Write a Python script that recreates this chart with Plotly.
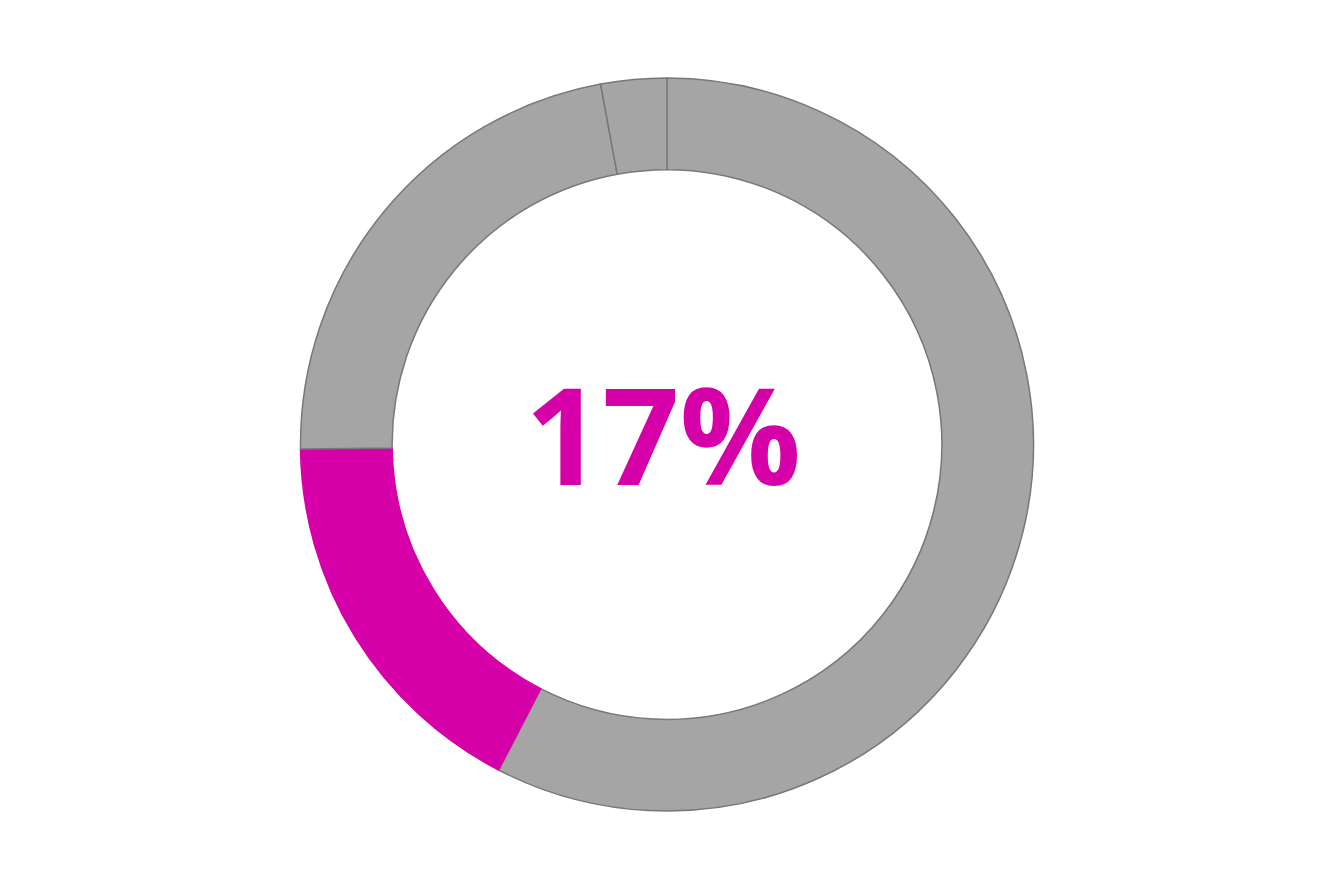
import plotly.graph_objects as go

# slices, clockwise from 12 o'clock
labels = ["Other A", "Highlight", "Other B", "Other C"]
values = [57.6, 17.2, 22.3, 2.9]
slice_colors = ["#A5A5A5", "#D500A8", "#A5A5A5", "#A5A5A5"]
edge_colors = ["#787878", "#D500A8", "#787878", "#787878"]
center_label = "17%"

fig = go.Figure(go.Pie(
    labels=labels,
    values=values,
    hole=0.75,
    sort=False,
    direction="clockwise",
    rotation=0,
    textinfo="none",
    hoverinfo="label+percent",
    marker=dict(colors=slice_colors, line=dict(color=edge_colors, width=1.5)),
))

# big number in the middle of the ring
fig.add_annotation(
    text=center_label,
    x=0.5, y=0.5, xref="paper", yref="paper",
    xshift=-4, yshift=12,
    showarrow=False,
    font=dict(family="Open Sans", size=135, color="#D500A8", weight="bold"),
)

fig.update_layout(
    width=1334,
    height=889,
    showlegend=False,
    paper_bgcolor="white",
    margin=dict(t=70, b=86, l=72, r=88),
)

fig.write_html("out.html")
